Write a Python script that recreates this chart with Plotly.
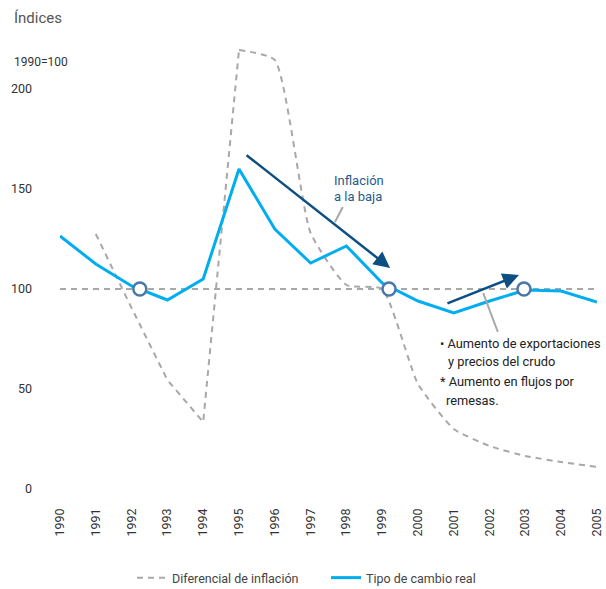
import plotly.graph_objects as go

years = list(range(1990, 2006))
tick_labels = [str(y) for y in years]

# Diferencial de inflación (starts 1991)
infl_years = list(range(1991, 2006))
infl_values = [127.5, 90.5, 54.5, 33.5, 219.5, 214.5, 128.0, 102.0, 100.0, 52.5, 30.0, 21.5, 16.5, 13.5, 11.0]

# Tipo de cambio real
tcr_values = [126.5, 112.5, 101.5, 94.5, 105.0, 160.0, 130.0, 113.0, 121.5, 103.0, 94.0, 88.0, 94.0, 99.5, 99.0, 93.5]

base_value = 100
circle_x = [1992.23, 1999.19, 2002.96]
circle_y = [100, 100, 100]

FONT = "Roboto"
GRAY = "#a8a8a8"
BLUE = "#00aeef"
DARK = "#0d4f82"
CIRC = "#4a78a8"
DASH = "6px,5px"

fig = go.Figure()

fig.add_shape(type="line", xref="x", yref="y", x0=years[0], x1=years[-1], y0=base_value, y1=base_value,
              line=dict(color=GRAY, width=2, dash=DASH), layer="below")

# inflation differential: straight segments up to 1995, smoothed afterwards
fig.add_trace(go.Scatter(x=infl_years[:5], y=infl_values[:5], mode="lines", name="Diferencial de inflación",
                         legendgroup="infl", line=dict(color=GRAY, width=2, dash=DASH)))
fig.add_trace(go.Scatter(x=infl_years[4:], y=infl_values[4:], mode="lines", showlegend=False,
                         legendgroup="infl", line=dict(color=GRAY, width=2, dash=DASH, shape="spline", smoothing=0.5)))
fig.add_trace(go.Scatter(x=years, y=tcr_values, mode="lines", name="Tipo de cambio real",
                         line=dict(color=BLUE, width=3)))
fig.add_trace(go.Scatter(x=circle_x, y=circle_y, mode="markers", showlegend=False, hoverinfo="skip",
                         marker=dict(size=13, color="white", line=dict(color=CIRC, width=2.5))))

# arrows
fig.add_annotation(x=1999.22, y=110.5, ax=1995.17, ay=167.5, xref="x", yref="y", axref="x", ayref="y",
                   showarrow=True, arrowhead=2, arrowsize=1.3, arrowwidth=2.5, arrowcolor=DARK, text="")
fig.add_annotation(x=2002.82, y=107, ax=2000.78, ay=92.5, xref="x", yref="y", axref="x", ayref="y",
                   showarrow=True, arrowhead=2, arrowsize=1.3, arrowwidth=2.5, arrowcolor=DARK, text="")

# leader lines
fig.add_shape(type="line", xref="x", yref="y", x0=1997.68, y0=133.5, x1=1997.9, y1=141,
              line=dict(color=GRAY, width=2))
fig.add_shape(type="line", xref="x", yref="y", x0=2001.82, y0=98, x1=2002.23, y1=78.5,
              line=dict(color=GRAY, width=2))

# texts
fig.add_annotation(xref="paper", yref="paper", x=(332-60)/537, y=(489-180)/444, xanchor="left", yanchor="middle",
                   text="Inflación", showarrow=False, font=dict(family=FONT, size=13, color="#1f5c8b"))
fig.add_annotation(xref="paper", yref="paper", x=(332-60)/537, y=(489-196)/444, xanchor="left", yanchor="middle",
                   text="a la baja", showarrow=False, font=dict(family=FONT, size=13, color="#1f5c8b"))

notes = [("• Aumento de exportaciones", 438, 343), ("y precios del crudo", 446, 362),
         ("* Aumento en flujos por", 438, 381), ("remesas.", 444, 400)]
for t, px, py in notes:
    fig.add_annotation(xref="paper", yref="paper", x=(px-60)/537, y=(489-py)/444, xanchor="left", yanchor="middle",
                       text=t, showarrow=False, font=dict(family=FONT, size=12.8, color="#222222"))

fig.add_annotation(xref="paper", yref="paper", x=(12-60)/537, y=(489-18)/444, xanchor="left", yanchor="middle",
                   text="Índices", showarrow=False, font=dict(family=FONT, size=15, color="#555555"))
fig.add_annotation(xref="paper", yref="paper", x=(12-60)/537, y=(489-62)/444, xanchor="left", yanchor="middle",
                   text="1990=100", showarrow=False, font=dict(family=FONT, size=12, color="#333333"))

fig.update_layout(
    width=606, height=589, autosize=False,
    margin=dict(l=60, r=9, t=45, b=100),
    paper_bgcolor="white", plot_bgcolor="white",
    font=dict(family=FONT, size=12, color="#333333"),
    showlegend=True,
    legend=dict(orientation="h", xref="container", yref="container", x=132/606, xanchor="left",
                y=1 - 578/589, yanchor="middle",
                font=dict(family=FONT, size=12.5, color="#444444"), entrywidth=149, entrywidthmode="pixels"),
    xaxis=dict(range=[1990, 2005], tickmode="array", tickvals=years, ticktext=tick_labels, tickangle=-90,
               showgrid=False, zeroline=False, showline=False, ticks="", ticklabelstandoff=16, automargin=False,
               tickfont=dict(family=FONT, size=12.5, color="#333333")),
    yaxis=dict(range=[0, 222], tickvals=[0, 50, 100, 150, 200], showgrid=False, zeroline=False, showline=False,
               ticks="", ticklabelstandoff=27, automargin=False, tickfont=dict(family=FONT, size=12.5, color="#333333")),
)

fig.write_html("out.html", config={"displayModeBar": False},
               post_script="document.body.style.margin='0';document.body.style.overflow='hidden';")
